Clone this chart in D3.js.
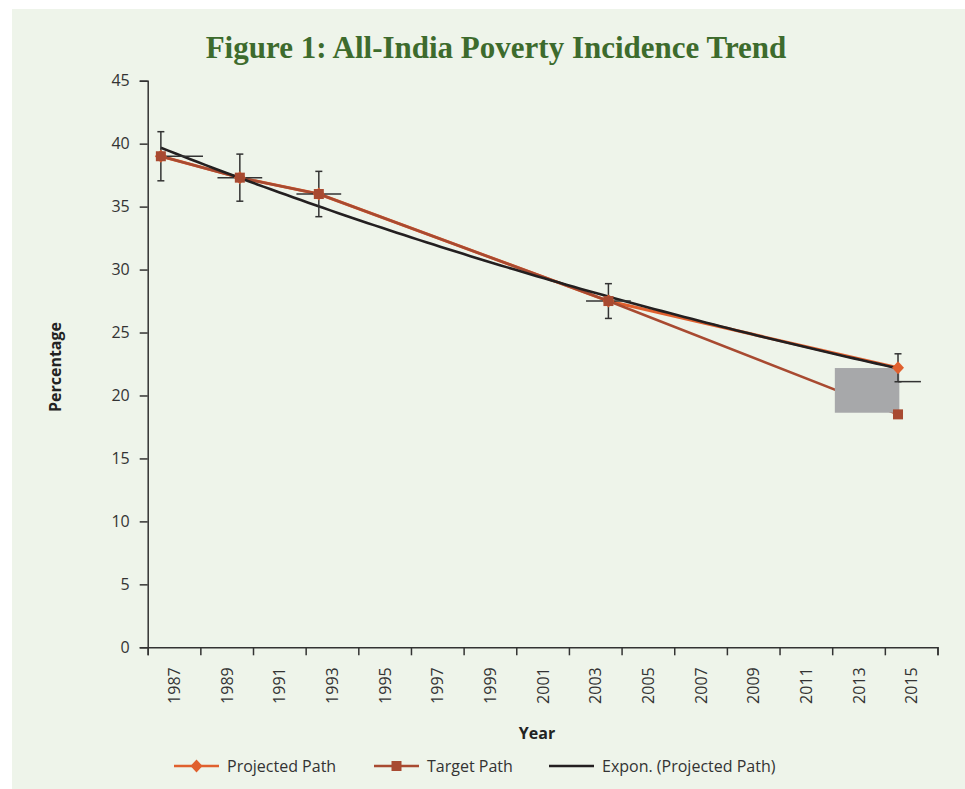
<!DOCTYPE html>
<html>
<head>
<meta charset="utf-8">
<script src="https://cdn.jsdelivr.net/npm/d3@7/dist/d3.min.js"></script>
<style>
  html, body { margin: 0; padding: 0; background: #ffffff; }
  svg { display: block; }
</style>
</head>
<body>
<svg id="chart" width="965" height="789"></svg>
<script>
// Survey years and poverty head-count ratios (%)
const years = [1987, 1990, 1993, 2004, 2015];
const projectedPath = [39.0, 37.3, 36.0, 27.5, 22.2];
const targetPath = [39.0, 37.3, 36.0, 27.5, 18.5];

// Error bars on the projected series
const yErr = [1.95, 1.87, 1.80, 1.38, 1.11];
const xErrMinus = [0.08, 0.85, 0.85, 0.85, 0];
const xErrPlus = [1.6, 0.85, 0.85, 0.85, 0.87];
const xBarLevel = [39.0, 37.3, 36.0, 27.5, 21.1];

// Axis ticks
const yTicks = [0, 5, 10, 15, 20, 25, 30, 35, 40, 45];
const xTickYears = d3.range(1987, 2018, 2);
const xLabelYears = d3.range(1987, 2016, 2);

// Shaded block over the final segment (year span, value span)
const shadeYears = [2013.1, 2015.55];
const shadeValues = [18.63, 22.18];

const legendItems = ["Projected Path", "Target Path", "Expon. (Projected Path)"];

const colProjected = "#e0602e";
const colTarget = "#a84a31";
const colTrend = "#231f20";
const colAxis = "#333333";
const font = "'Open Sans', 'Noto Sans', sans-serif";

const svg = d3.select("#chart");

// panel background
svg.append("rect").attr("x", 12).attr("y", 9).attr("width", 965 - 12).attr("height", 789 - 9)
  .attr("fill", "#eef4ea");

// title
svg.append("text")
  .attr("x", 496).attr("y", 58)
  .attr("text-anchor", "middle")
  .attr("font-family", "'Liberation Serif', 'DejaVu Serif', serif")
  .attr("font-weight", "bold")
  .attr("font-size", 31)
  .attr("fill", "#3d6b2d")
  .text("Figure 1: All-India Poverty Incidence Trend");

// scales: each year occupies one band on a linear date axis
const xLin = d3.scaleLinear().domain([1987, 2017]).range([147.7, 937.5]);
const xPos = yr => xLin(yr + 0.5);
const y = d3.scaleLinear().domain([0, 45]).range([647.3, 80.7]);

// y axis
const yAxis = d3.axisLeft(y).tickValues(yTicks).tickSize(8).tickPadding(10).tickFormat(d3.format("d"));
const gy = svg.append("g").attr("transform", `translate(${xLin(1987)},0)`).call(yAxis);
gy.select(".domain").attr("stroke", colAxis).attr("stroke-width", 1.5);
gy.selectAll(".tick line").attr("stroke", colAxis).attr("stroke-width", 1.5);
gy.selectAll(".tick text").attr("font-family", font).attr("font-size", 16).attr("fill", "#333");

// x axis: ticks at band edges, labels centred between ticks
const xAxis = d3.axisBottom(xLin).tickValues(xTickYears).tickSize(8).tickFormat("");
const gx = svg.append("g").attr("transform", `translate(0,${y(0)})`).call(xAxis);
gx.select(".domain").attr("stroke", colAxis).attr("stroke-width", 1.5);
gx.selectAll(".tick line").attr("stroke", colAxis).attr("stroke-width", 1.5);

svg.append("g").selectAll("text").data(xLabelYears).join("text")
  .attr("transform", d => `translate(${xLin(d + 1) + 6},${y(0) + 20}) rotate(-90)`)
  .attr("text-anchor", "end")
  .attr("font-family", font).attr("font-size", 16).attr("fill", "#333")
  .text(d => d);

// axis titles
svg.append("text")
  .attr("transform", `translate(61,367) rotate(-90)`)
  .attr("text-anchor", "middle")
  .attr("font-family", font).attr("font-weight", "bold").attr("font-size", 16).attr("fill", "#222")
  .text("Percentage");
svg.append("text")
  .attr("x", 537).attr("y", 739)
  .attr("text-anchor", "middle")
  .attr("font-family", font).attr("font-weight", "bold").attr("font-size", 16).attr("fill", "#222")
  .text("Year");

const line = d3.line().x(d => xPos(d[0])).y(d => y(d[1]));

// projected and target paths
svg.append("path").datum(years.map((yr, i) => [yr, projectedPath[i]]))
  .attr("d", line).attr("fill", "none").attr("stroke", colProjected).attr("stroke-width", 3);
svg.append("path").datum(years.map((yr, i) => [yr, targetPath[i]]))
  .attr("d", line).attr("fill", "none").attr("stroke", colTarget).attr("stroke-width", 2.6);

// shaded block
svg.append("rect")
  .attr("x", xLin(shadeYears[0])).attr("y", y(shadeValues[1]))
  .attr("width", xLin(shadeYears[1]) - xLin(shadeYears[0]))
  .attr("height", y(shadeValues[0]) - y(shadeValues[1]))
  .attr("fill", "#a7a8aa");

// exponential trend fitted to the projected path (least squares on log values)
const n = years.length;
const mx = d3.mean(years);
const ly = projectedPath.map(v => Math.log(v));
const my = d3.mean(ly);
let sxy = 0, sxx = 0;
for (let i = 0; i < n; i++) { sxy += (years[i] - mx) * (ly[i] - my); sxx += (years[i] - mx) ** 2; }
const b = sxy / sxx;
const a = Math.exp(my - b * mx);
const trendPts = d3.range(0, 101).map(k => {
  const yr = years[0] + (years[n - 1] - years[0]) * k / 100;
  return [yr, a * Math.exp(b * yr)];
});
svg.append("path").datum(trendPts)
  .attr("d", line).attr("fill", "none").attr("stroke", colTrend).attr("stroke-width", 2.6);

// error bars
const eb = svg.append("g").attr("stroke", colAxis).attr("stroke-width", 1.5);
years.forEach((yr, i) => {
  const cx = xPos(yr);
  const top = y(projectedPath[i] + yErr[i]);
  const bot = y(projectedPath[i] - yErr[i]);
  eb.append("line").attr("x1", cx).attr("x2", cx).attr("y1", top).attr("y2", bot);
  eb.append("line").attr("x1", cx - 3.5).attr("x2", cx + 3.5).attr("y1", top).attr("y2", top);
  eb.append("line").attr("x1", cx - 3.5).attr("x2", cx + 3.5).attr("y1", bot).attr("y2", bot);
  const hy = y(xBarLevel[i]);
  eb.append("line")
    .attr("x1", xPos(yr - xErrMinus[i])).attr("x2", xPos(yr + xErrPlus[i]))
    .attr("y1", hy).attr("y2", hy);
});

// markers: projected diamonds, then target squares on top
svg.append("g").selectAll("path").data(years.map((yr, i) => [yr, projectedPath[i]])).join("path")
  .attr("transform", d => `translate(${xPos(d[0])},${y(d[1])})`)
  .attr("d", "M0,-6.5L6,0L0,6.5L-6,0Z")
  .attr("fill", colProjected);
svg.append("g").selectAll("rect").data(years.map((yr, i) => [yr, targetPath[i]])).join("rect")
  .attr("x", d => xPos(d[0]) - 5).attr("y", d => y(d[1]) - 5)
  .attr("width", 10).attr("height", 10)
  .attr("fill", colTarget);

// legend
const lg = svg.append("g").attr("font-family", font).attr("font-size", 16).attr("fill", "#333");
const legendX = [174, 374, 549];
const ly0 = 766;
legendItems.forEach((label, i) => {
  const x0 = legendX[i];
  const col = [colProjected, colTarget, colTrend][i];
  lg.append("line").attr("x1", x0).attr("x2", x0 + 45).attr("y1", ly0).attr("y2", ly0)
    .attr("stroke", col).attr("stroke-width", 2.6);
  if (i === 0) {
    lg.append("path").attr("transform", `translate(${x0 + 22.5},${ly0})`)
      .attr("d", "M0,-6.5L6,0L0,6.5L-6,0Z").attr("fill", col);
  } else if (i === 1) {
    lg.append("rect").attr("x", x0 + 22.5 - 5).attr("y", ly0 - 5).attr("width", 10).attr("height", 10).attr("fill", col);
  }
  lg.append("text").attr("x", x0 + 53).attr("y", ly0 + 6).text(label);
});
</script>
</body>
</html>
